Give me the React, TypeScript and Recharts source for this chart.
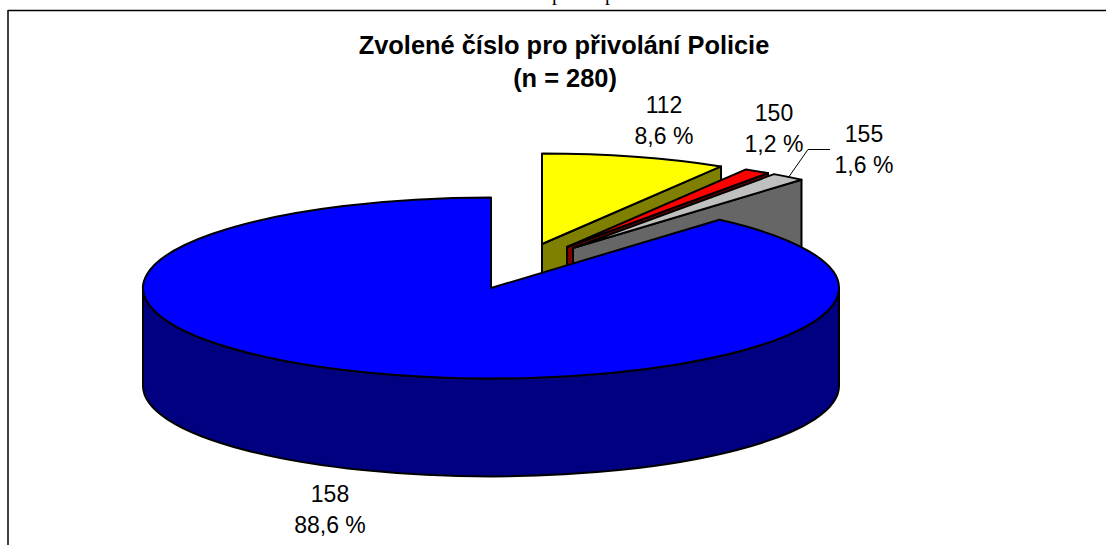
import React from 'react';
import { PieChart, Pie, Cell } from 'recharts';

const categories = ['112', '150', '155', '158'];
const percentages = [8.6, 1.2, 1.6, 88.6];
const percentLabels = ['8,6 %', '1,2 %', '1,6 %', '88,6 %'];
const topColors = ['#ffff00', '#ff0000', '#c0c0c0', '#0000ff'];
const sideColors = ['#808000', '#800000', '#666666', '#000080'];
const titleLines = ['Zvolené číslo pro přivolání Policie', '(n = 280)'];

const tableData = categories.map((name, i) => ({ name, value: percentages[i], label: percentLabels[i], side: sideColors[i] }));

// Layout constants
const FONT = '"Liberation Sans", Arial, sans-serif';
const TILT = 0.26;
const DEPTH = 98;
const explodeOffsets = [
  { dx: 51, dy: -44 },
  { dx: 76, dy: -41 },
  { dx: 82, dy: -40 },
  { dx: 0, dy: 0 },
];
const labelAnchors = [
  { x: 664, y: 113 },
  { x: 774, y: 121 },
  { x: 864, y: 142 },
  { x: 330, y: 502 },
];
const LINE_GAP = 31;

function Slice3D(props: any) {
  const { cx, cy, outerRadius, startAngle, endAngle, fill, index } = props;
  const sideFill = props.side ?? props.payload?.side;
  const idx = typeof index === 'number' ? index : categories.indexOf(props.name);
  const off = explodeOffsets[idx] ?? { dx: 0, dy: 0 };
  const ax = cx + off.dx;
  const ay = cy + off.dy;
  const rx = outerRadius;
  const ry = outerRadius * TILT;
  const pt = (deg: number, drop = 0) => {
    const r = (deg * Math.PI) / 180;
    return [ax + rx * Math.cos(r), ay - ry * Math.sin(r) + drop];
  };
  const span = startAngle - endAngle;
  const [sx, sy] = pt(startAngle);
  const [ex, ey] = pt(endAngle);
  const top = `M${ax},${ay} L${sx},${sy} A${rx},${ry} 0 ${span > 180 ? 1 : 0} 1 ${ex},${ey} Z`;

  const walls: string[] = [];
  const edgeWall = (deg: number) => {
    const [px, py] = pt(deg);
    return `M${ax},${ay} L${px},${py} L${px},${py + DEPTH} L${ax},${ay + DEPTH} Z`;
  };
  if (Math.cos((endAngle * Math.PI) / 180) > 1e-6) walls.push(edgeWall(endAngle));
  if (Math.cos((startAngle * Math.PI) / 180) < -1e-6) walls.push(edgeWall(startAngle));

  // Outer rim: the part of the arc lying in the front half of the ellipse
  let rim: string | null = null;
  for (let k = 0; k >= -1; k--) {
    const hi = Math.min(startAngle, 0 + 360 * k);
    const lo = Math.max(endAngle, -180 + 360 * k);
    if (hi > lo) {
      const [x1, y1] = pt(hi);
      const [x2, y2] = pt(lo);
      rim = `M${x1},${y1} A${rx},${ry} 0 0 1 ${x2},${y2} L${x2},${y2 + DEPTH} A${rx},${ry} 0 0 0 ${x1},${y1 + DEPTH} Z`;
    }
  }
  const stroke = { stroke: '#000', strokeWidth: 2, strokeLinejoin: 'round' as const };
  return (
    <g>
      {walls.map((d, i) => (
        <path key={i} d={d} fill={sideFill} {...stroke} />
      ))}
      {rim && <path d={rim} fill={sideFill} {...stroke} />}
      <path d={top} fill={fill} {...stroke} />
    </g>
  );
}

function SliceLabel(props: any) {
  const { index } = props;
  const a = labelAnchors[index];
  return (
    <g>
      {index === 2 && <polyline points="788,178 808,149.5 830,149.5" fill="none" stroke="#000" strokeWidth={1} />}
      <text x={a.x} y={a.y} textAnchor="middle" fontFamily={FONT} fontSize={23} fill="#000">
        {categories[index]}
      </text>
      <text x={a.x} y={a.y + LINE_GAP} textAnchor="middle" fontFamily={FONT} fontSize={23} fill="#000">
        {percentLabels[index]}
      </text>
    </g>
  );
}

export default function App() {
  return (
    <div style={{ position: 'fixed', left: 0, top: 0, width: 1106, height: 545, overflow: 'hidden', background: '#fff' }}>
      <PieChart width={1106} height={545} margin={{ top: 0, right: 0, bottom: 0, left: 0 }}>
        <line x1={8} y1={10.5} x2={1106} y2={10.5} stroke="#000" strokeWidth={1.5} />
        <line x1={8} y1={10} x2={8} y2={545} stroke="#000" strokeWidth={1.5} />
        <text x={552} y={0} fontFamily='"Liberation Serif", serif' fontSize={20} fill="#000">p</text>
        <text x={605} y={0} fontFamily='"Liberation Serif", serif' fontSize={20} fill="#000">p</text>
        <text x={564} y={54} textAnchor="middle" fontFamily={FONT} fontWeight="bold" fontSize={25.4} fill="#000">
          {titleLines[0]}
        </text>
        <text x={565} y={87} textAnchor="middle" fontFamily={FONT} fontWeight="bold" fontSize={25.4} fill="#000">
          {titleLines[1]}
        </text>
        <Pie
          data={tableData}
          dataKey="value"
          nameKey="name"
          cx={491}
          cy={288}
          outerRadius={348}
          startAngle={90}
          endAngle={-270}
          isAnimationActive={false}
          shape={Slice3D}
          inactiveShape={Slice3D}
          activeShape={Slice3D}
          label={SliceLabel}
          labelLine={false}
          stroke="#000"
        >
          {tableData.map((d, i) => (
            <Cell key={d.name} fill={topColors[i]} />
          ))}
        </Pie>
      </PieChart>
    </div>
  );
}
